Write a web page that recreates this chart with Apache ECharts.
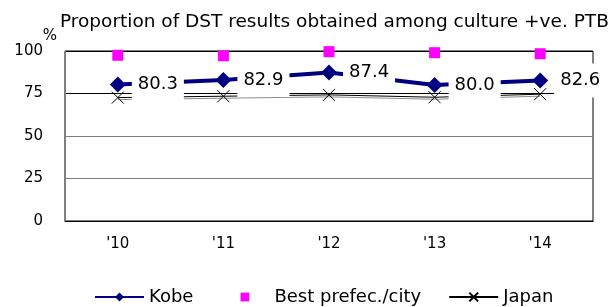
<!DOCTYPE html>
<html>
<head>
<meta charset="utf-8">
<script src="https://cdn.jsdelivr.net/npm/echarts@6/dist/echarts.min.js"></script>
<style>
  html, body { margin: 0; padding: 0; background: #fff; }
  #chart { width: 611px; height: 307px; }
</style>
</head>
<body>
<div id="chart"></div>
<script>
var years = ["'10", "'11", "'12", "'13", "'14"];
var kobe = [80.3, 82.9, 87.4, 80.0, 82.6];
var bestPrefCity = [97.5, 97.2, 99.6, 99.0, 98.4];
var japan = [72.6, 73.4, 74.2, 72.8, 74.6];
var yTicks = [0, 25, 50, 75, 100];

var FONT = 'DejaVu Sans';
var crossPath = 'path://M0,0L10,10M10,0L0,10';

var chart = echarts.init(document.getElementById('chart'));

chart.setOption({
  animation: false,
  textStyle: { fontFamily: FONT, color: '#000' },
  title: {
    text: 'Proportion of DST results obtained among culture +ve. PTB',
    left: 60,
    top: 13,
    padding: 0,
    textStyle: { fontFamily: FONT, fontSize: 18.5, fontWeight: 'normal', color: '#000' }
  },
  grid: {
    left: 65, right: 18, top: 51, bottom: 86,
    show: true, borderColor: '#000', borderWidth: 1
  },
  legend: {
    left: 94,
    top: 288,
    padding: 0,
    itemWidth: 49,
    itemHeight: 11,
    itemGap: 27,
    textStyle: { fontFamily: FONT, fontSize: 18, color: '#000' },
    data: ['Kobe', 'Best prefec./city', 'Japan']
  },
  xAxis: {
    type: 'category',
    data: years,
    boundaryGap: true,
    axisLine: { lineStyle: { color: '#000', width: 1 } },
    axisTick: { inside: true, length: 5, lineStyle: { color: '#000' } },
    axisLabel: { fontFamily: FONT, fontSize: 15, color: '#000', margin: 16 }
  },
  yAxis: {
    type: 'value',
    min: yTicks[0],
    max: yTicks[yTicks.length - 1],
    interval: 25,
    name: '%',
    nameLocation: 'end',
    nameGap: 15,
    nameTextStyle: { fontFamily: FONT, fontSize: 15, color: '#000', align: 'right', verticalAlign: 'middle', padding: [0, 8, 0, 0] },
    axisLine: { show: true, lineStyle: { color: '#808080', width: 1 } },
    axisTick: { show: false },
    axisLabel: { fontFamily: FONT, fontSize: 15, color: '#000', margin: 22 },
    splitLine: {
      show: true,
      lineStyle: { color: ['#000', '#808080', '#808080', '#000', '#000'], width: 1 }
    }
  },
  series: [
    {
      name: 'Japan',
      type: 'line',
      z: 2,
      data: japan,
      symbol: crossPath,
      symbolSize: 12,
      lineStyle: { color: '#000', width: 1, shadowColor: 'rgba(0,0,0,0.45)', shadowOffsetY: 2, shadowBlur: 0 },
      itemStyle: { color: 'none', borderColor: '#000', borderWidth: 1 }
    },
    {
      name: 'Best prefec./city',
      type: 'line',
      z: 3,
      data: bestPrefCity,
      symbol: 'rect',
      symbolSize: 11,
      lineStyle: { width: 0, opacity: 0 },
      itemStyle: { color: '#ff00ff' }
    },
    {
      name: 'Kobe',
      type: 'line',
      z: 5,
      data: kobe,
      symbol: 'diamond',
      symbolSize: 16,
      lineStyle: { color: '#000080', width: 4 },
      itemStyle: { color: '#000080' },
      label: {
        show: true,
        position: 'right',
        distance: 6,
        fontFamily: FONT,
        fontSize: 18,
        color: '#000',
        backgroundColor: '#fff',
        padding: [8, 6],
        formatter: function (p) { return p.value.toFixed(1); }
      }
    }
  ]
});
</script>
</body>
</html>
